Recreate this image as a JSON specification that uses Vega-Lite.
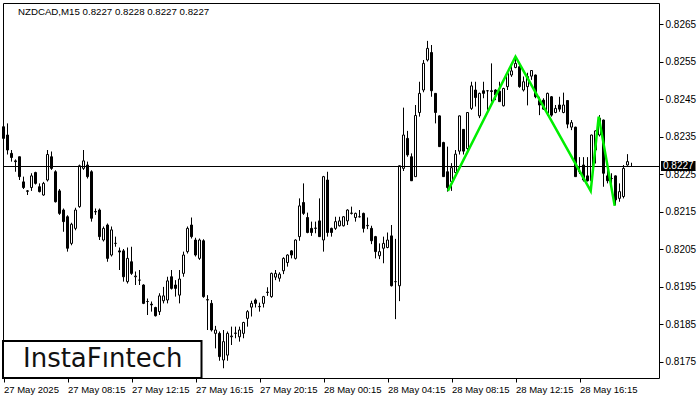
{
"$schema":"https://vega.github.io/schema/vega-lite/v6.json",
"width":656,"height":375,
"autosize":{"type":"none"},
"padding":{"left":3,"top":3,"right":41,"bottom":22},
"background":"white",
"data":{"values":[{}]},
"config":{"view":{"stroke":"black","strokeWidth":1},"scale":{"continuousPadding":0},"axis":{"grid":false,"domain":false,"tickColor":"black","labelColor":"black","tickSize":4,"labelFont":"Liberation Sans","title":null}},
"datasets":{
"candles":[
{"i":0,"o":0.82376,"h":0.82381,"l":0.82343,"c":0.82345},
{"i":1,"o":0.82354,"h":0.82385,"l":0.82302,"c":0.82314},
{"i":2,"o":0.82305,"h":0.82314,"l":0.82283,"c":0.82294},
{"i":3,"o":0.82285,"h":0.82289,"l":0.82256,"c":0.82283},
{"i":4,"o":0.82296,"h":0.82296,"l":0.82234,"c":0.82243},
{"i":5,"o":0.82229,"h":0.82243,"l":0.82210,"c":0.82214},
{"i":6,"o":0.82205,"h":0.82207,"l":0.82194,"c":0.82204},
{"i":7,"o":0.82214,"h":0.82252,"l":0.82205,"c":0.82245},
{"i":8,"o":0.82254,"h":0.82256,"l":0.82222,"c":0.82225},
{"i":9,"o":0.82216,"h":0.82225,"l":0.82201,"c":0.82203},
{"i":10,"o":0.82194,"h":0.82229,"l":0.82192,"c":0.82225},
{"i":11,"o":0.82234,"h":0.82314,"l":0.82230,"c":0.82302},
{"i":12,"o":0.82296,"h":0.82310,"l":0.82261,"c":0.82265},
{"i":13,"o":0.82256,"h":0.82260,"l":0.82174,"c":0.82176},
{"i":14,"o":0.82205,"h":0.82210,"l":0.82141,"c":0.82145},
{"i":15,"o":0.82154,"h":0.82158,"l":0.82096,"c":0.82123},
{"i":16,"o":0.82136,"h":0.82140,"l":0.82043,"c":0.82052},
{"i":17,"o":0.82065,"h":0.82120,"l":0.82060,"c":0.82116},
{"i":18,"o":0.82105,"h":0.82160,"l":0.82100,"c":0.82154},
{"i":19,"o":0.82163,"h":0.82275,"l":0.82160,"c":0.82272},
{"i":20,"o":0.82265,"h":0.82314,"l":0.82261,"c":0.82285},
{"i":21,"o":0.82274,"h":0.82283,"l":0.82238,"c":0.82243},
{"i":22,"o":0.82256,"h":0.82260,"l":0.82123,"c":0.82132},
{"i":23,"o":0.82150,"h":0.82158,"l":0.82141,"c":0.82149},
{"i":24,"o":0.82154,"h":0.82158,"l":0.82074,"c":0.82083},
{"i":25,"o":0.82074,"h":0.82110,"l":0.82070,"c":0.82105},
{"i":26,"o":0.82114,"h":0.82118,"l":0.82016,"c":0.82025},
{"i":27,"o":0.82034,"h":0.82110,"l":0.82030,"c":0.82101},
{"i":28,"o":0.82065,"h":0.82083,"l":0.82056,"c":0.82065},
{"i":29,"o":0.82045,"h":0.82054,"l":0.81994,"c":0.82042},
{"i":30,"o":0.82045,"h":0.82050,"l":0.81963,"c":0.81976},
{"i":31,"o":0.81963,"h":0.82054,"l":0.81958,"c":0.82025},
{"i":32,"o":0.82016,"h":0.82056,"l":0.81981,"c":0.81985},
{"i":33,"o":0.81976,"h":0.81990,"l":0.81954,"c":0.81978},
{"i":34,"o":0.81967,"h":0.81994,"l":0.81954,"c":0.81967},
{"i":35,"o":0.81954,"h":0.81956,"l":0.81903,"c":0.81905},
{"i":36,"o":0.81910,"h":0.81918,"l":0.81874,"c":0.81910},
{"i":37,"o":0.81903,"h":0.81910,"l":0.81883,"c":0.81901},
{"i":38,"o":0.81894,"h":0.81896,"l":0.81870,"c":0.81872},
{"i":39,"o":0.81883,"h":0.81932,"l":0.81874,"c":0.81925},
{"i":40,"o":0.81912,"h":0.81949,"l":0.81905,"c":0.81925},
{"i":41,"o":0.81914,"h":0.81976,"l":0.81905,"c":0.81965},
{"i":42,"o":0.81976,"h":0.81994,"l":0.81942,"c":0.81945},
{"i":43,"o":0.81954,"h":0.81967,"l":0.81923,"c":0.81945},
{"i":44,"o":0.81927,"h":0.81994,"l":0.81905,"c":0.81970},
{"i":45,"o":0.81985,"h":0.82043,"l":0.81976,"c":0.82034},
{"i":46,"o":0.82043,"h":0.82110,"l":0.82038,"c":0.82105},
{"i":47,"o":0.82114,"h":0.82134,"l":0.82078,"c":0.82083},
{"i":48,"o":0.82074,"h":0.82080,"l":0.82030,"c":0.82034},
{"i":49,"o":0.82025,"h":0.82078,"l":0.82021,"c":0.82074},
{"i":50,"o":0.82072,"h":0.82076,"l":0.81920,"c":0.81923},
{"i":51,"o":0.81914,"h":0.81927,"l":0.81834,"c":0.81915},
{"i":52,"o":0.81905,"h":0.81914,"l":0.81830,"c":0.81834},
{"i":53,"o":0.81825,"h":0.81845,"l":0.81785,"c":0.81834},
{"i":54,"o":0.81825,"h":0.81830,"l":0.81752,"c":0.81763},
{"i":55,"o":0.81754,"h":0.81834,"l":0.81732,"c":0.81803},
{"i":56,"o":0.81767,"h":0.81830,"l":0.81752,"c":0.81825},
{"i":57,"o":0.81816,"h":0.81843,"l":0.81794,"c":0.81818},
{"i":58,"o":0.81825,"h":0.81843,"l":0.81812,"c":0.81826},
{"i":59,"o":0.81816,"h":0.81843,"l":0.81803,"c":0.81834},
{"i":60,"o":0.81825,"h":0.81856,"l":0.81812,"c":0.81854},
{"i":61,"o":0.81865,"h":0.81887,"l":0.81843,"c":0.81883},
{"i":62,"o":0.81895,"h":0.81912,"l":0.81870,"c":0.81905},
{"i":63,"o":0.81914,"h":0.81918,"l":0.81894,"c":0.81905},
{"i":64,"o":0.81896,"h":0.81907,"l":0.81883,"c":0.81897},
{"i":65,"o":0.81905,"h":0.81925,"l":0.81894,"c":0.81923},
{"i":66,"o":0.81934,"h":0.81948,"l":0.81925,"c":0.81935},
{"i":67,"o":0.81923,"h":0.81987,"l":0.81920,"c":0.81985},
{"i":68,"o":0.81975,"h":0.81994,"l":0.81967,"c":0.81985},
{"i":69,"o":0.81972,"h":0.81988,"l":0.81963,"c":0.81983},
{"i":70,"o":0.81992,"h":0.82028,"l":0.81983,"c":0.82025},
{"i":71,"o":0.82014,"h":0.82036,"l":0.82003,"c":0.82034},
{"i":72,"o":0.82045,"h":0.82047,"l":0.82025,"c":0.82034},
{"i":73,"o":0.82025,"h":0.82076,"l":0.82022,"c":0.82074},
{"i":74,"o":0.82083,"h":0.82185,"l":0.82072,"c":0.82165},
{"i":75,"o":0.82174,"h":0.82225,"l":0.82141,"c":0.82145},
{"i":76,"o":0.82134,"h":0.82147,"l":0.82092,"c":0.82094},
{"i":77,"o":0.82105,"h":0.82123,"l":0.82085,"c":0.82094},
{"i":78,"o":0.82105,"h":0.82123,"l":0.82092,"c":0.82106},
{"i":79,"o":0.82125,"h":0.82185,"l":0.82083,"c":0.82083},
{"i":80,"o":0.82074,"h":0.82245,"l":0.82043,"c":0.82243},
{"i":81,"o":0.82234,"h":0.82256,"l":0.82083,"c":0.82094},
{"i":82,"o":0.82105,"h":0.82107,"l":0.82083,"c":0.82094},
{"i":83,"o":0.82105,"h":0.82136,"l":0.82101,"c":0.82123},
{"i":84,"o":0.82112,"h":0.82136,"l":0.82110,"c":0.82125},
{"i":85,"o":0.82112,"h":0.82138,"l":0.82110,"c":0.82136},
{"i":86,"o":0.82125,"h":0.82156,"l":0.82114,"c":0.82154},
{"i":87,"o":0.82145,"h":0.82163,"l":0.82142,"c":0.82146},
{"i":88,"o":0.82134,"h":0.82147,"l":0.82123,"c":0.82145},
{"i":89,"o":0.82136,"h":0.82154,"l":0.82134,"c":0.82136},
{"i":90,"o":0.82145,"h":0.82147,"l":0.82094,"c":0.82105},
{"i":91,"o":0.82112,"h":0.82134,"l":0.82103,"c":0.82113},
{"i":92,"o":0.82105,"h":0.82112,"l":0.82063,"c":0.82072},
{"i":93,"o":0.82083,"h":0.82085,"l":0.82025,"c":0.82043},
{"i":94,"o":0.82032,"h":0.82065,"l":0.82023,"c":0.82043},
{"i":95,"o":0.82052,"h":0.82083,"l":0.82012,"c":0.82065},
{"i":96,"o":0.82054,"h":0.82094,"l":0.82052,"c":0.82074},
{"i":97,"o":0.82085,"h":0.82114,"l":0.81950,"c":0.81952},
{"i":98,"o":0.81963,"h":0.82077,"l":0.81863,"c":0.81963},
{"i":99,"o":0.81952,"h":0.82273,"l":0.81911,"c":0.82272},
{"i":100,"o":0.82265,"h":0.82427,"l":0.82258,"c":0.82354},
{"i":101,"o":0.82345,"h":0.82365,"l":0.82296,"c":0.82301},
{"i":102,"o":0.82296,"h":0.82305,"l":0.82232,"c":0.82232},
{"i":103,"o":0.82243,"h":0.82434,"l":0.82243,"c":0.82406},
{"i":104,"o":0.82414,"h":0.82496,"l":0.82403,"c":0.82465},
{"i":105,"o":0.82474,"h":0.82554,"l":0.82468,"c":0.82545},
{"i":106,"o":0.82554,"h":0.82605,"l":0.82550,"c":0.82585},
{"i":107,"o":0.82574,"h":0.82594,"l":0.82456,"c":0.82472},
{"i":108,"o":0.82465,"h":0.82466,"l":0.82385,"c":0.82414},
{"i":109,"o":0.82405,"h":0.82406,"l":0.82322,"c":0.82323},
{"i":110,"o":0.82334,"h":0.82336,"l":0.82242,"c":0.82243},
{"i":111,"o":0.82256,"h":0.82323,"l":0.82203,"c":0.82214},
{"i":112,"o":0.82230,"h":0.82279,"l":0.82205,"c":0.82267},
{"i":113,"o":0.82254,"h":0.82314,"l":0.82252,"c":0.82303},
{"i":114,"o":0.82311,"h":0.82406,"l":0.82302,"c":0.82405},
{"i":115,"o":0.82369,"h":0.82370,"l":0.82302,"c":0.82311},
{"i":116,"o":0.82318,"h":0.82415,"l":0.82314,"c":0.82414},
{"i":117,"o":0.82425,"h":0.82496,"l":0.82421,"c":0.82485},
{"i":118,"o":0.82474,"h":0.82496,"l":0.82430,"c":0.82454},
{"i":119,"o":0.82405,"h":0.82467,"l":0.82399,"c":0.82465},
{"i":120,"o":0.82472,"h":0.82496,"l":0.82452,"c":0.82465},
{"i":121,"o":0.82472,"h":0.82474,"l":0.82421,"c":0.82472},
{"i":122,"o":0.82472,"h":0.82545,"l":0.82443,"c":0.82470},
{"i":123,"o":0.82474,"h":0.82476,"l":0.82447,"c":0.82461},
{"i":124,"o":0.82471,"h":0.82496,"l":0.82443,"c":0.82443},
{"i":125,"o":0.82432,"h":0.82480,"l":0.82430,"c":0.82478},
{"i":126,"o":0.82483,"h":0.82525,"l":0.82474,"c":0.82518},
{"i":127,"o":0.82514,"h":0.82545,"l":0.82509,"c":0.82525},
{"i":128,"o":0.82534,"h":0.82563,"l":0.82532,"c":0.82545},
{"i":129,"o":0.82536,"h":0.82548,"l":0.82480,"c":0.82483},
{"i":130,"o":0.82474,"h":0.82510,"l":0.82470,"c":0.82496},
{"i":131,"o":0.82483,"h":0.82520,"l":0.82433,"c":0.82510},
{"i":132,"o":0.82511,"h":0.82527,"l":0.82501,"c":0.82526},
{"i":133,"o":0.82514,"h":0.82515,"l":0.82452,"c":0.82456},
{"i":134,"o":0.82446,"h":0.82456,"l":0.82407,"c":0.82434},
{"i":135,"o":0.82447,"h":0.82452,"l":0.82421,"c":0.82423},
{"i":136,"o":0.82412,"h":0.82467,"l":0.82405,"c":0.82465},
{"i":137,"o":0.82456,"h":0.82458,"l":0.82403,"c":0.82407},
{"i":138,"o":0.82414,"h":0.82434,"l":0.82412,"c":0.82425},
{"i":139,"o":0.82434,"h":0.82456,"l":0.82416,"c":0.82423},
{"i":140,"o":0.82414,"h":0.82467,"l":0.82412,"c":0.82434},
{"i":141,"o":0.82446,"h":0.82447,"l":0.82372,"c":0.82383},
{"i":142,"o":0.82375,"h":0.82394,"l":0.82367,"c":0.82387},
{"i":143,"o":0.82375,"h":0.82376,"l":0.82243,"c":0.82243},
{"i":144,"o":0.82256,"h":0.82295,"l":0.82250,"c":0.82257},
{"i":145,"o":0.82274,"h":0.82295,"l":0.82230,"c":0.82234},
{"i":146,"o":0.82245,"h":0.82295,"l":0.82230,"c":0.82232},
{"i":147,"o":0.82232,"h":0.82355,"l":0.82207,"c":0.82354},
{"i":148,"o":0.82314,"h":0.82366,"l":0.82278,"c":0.82365},
{"i":149,"o":0.82354,"h":0.82407,"l":0.82350,"c":0.82399},
{"i":150,"o":0.82394,"h":0.82395,"l":0.82216,"c":0.82252},
{"i":151,"o":0.82245,"h":0.82274,"l":0.82225,"c":0.82232},
{"i":152,"o":0.82238,"h":0.82252,"l":0.82207,"c":0.82238},
{"i":153,"o":0.82245,"h":0.82246,"l":0.82167,"c":0.82181},
{"i":154,"o":0.82185,"h":0.82225,"l":0.82176,"c":0.82203},
{"i":155,"o":0.82190,"h":0.82274,"l":0.82185,"c":0.82265},
{"i":156,"o":0.82274,"h":0.82303,"l":0.82272,"c":0.82283},
{"i":157,"o":0.82270,"h":0.82280,"l":0.82270,"c":0.82270}
],
"pattern":[
{"i":111.1,"p":0.82205},
{"i":128,"p":0.82563},
{"i":146.8,"p":0.82205},
{"i":148.8,"p":0.82403},
{"i":152.8,"p":0.82165}
]
},
"layer":[
{"data":{"name":"candles"},
 "mark":{"type":"rule","color":"black","strokeWidth":1},
 "encoding":{
  "x":{"field":"i","type":"quantitative","scale":{"domain":[-0.125,163.875],"nice":false,"zero":false,"padding":0},
   "axis":{"orient":"bottom","values":[0,16,32,48,64,80,96,112,128,144],"labelExpr":"['27 May 2025','27 May 08:15','27 May 12:15','27 May 16:15','27 May 20:15','28 May 00:15','28 May 04:15','28 May 08:15','28 May 12:15','28 May 16:15'][round(datum.value/16)]","labelAlign":"left","labelBaseline":"top","labelPadding":2,"labelFontSize":9.5,"labelOverlap":false,"labelBound":false,"labelFlush":false}},
  "y":{"field":"l","type":"quantitative","scale":{"domain":[0.81706,0.82706],"nice":false,"zero":false,"padding":0},
   "axis":{"orient":"right","values":[0.8175,0.8185,0.8195,0.8205,0.8215,0.8225,0.8235,0.8245,0.8255,0.8265],"format":".4f","labelAlign":"left","labelBaseline":"middle","labelPadding":2,"labelFontSize":10,"labelOverlap":false,"labelBound":false,"labelFlush":false}},
  "y2":{"field":"h"}}},
{"data":{"name":"candles"},
 "mark":{"type":"bar","size":2,"stroke":"black","strokeWidth":1},
 "encoding":{
  "x":{"field":"i","type":"quantitative"},
  "y":{"field":"o","type":"quantitative"},
  "y2":{"field":"c"},
  "fill":{"condition":{"test":"datum.c < datum.o","value":"black"},"value":"white"}}},
{"mark":{"type":"rule","color":"black","strokeWidth":1},
 "encoding":{"y":{"datum":0.8227,"type":"quantitative"}}},
{"data":{"name":"pattern"},
 "mark":{"type":"line","color":"#00ee00","strokeWidth":2.5},
 "encoding":{
  "x":{"field":"i","type":"quantitative"},
  "y":{"field":"p","type":"quantitative"}}},
{"mark":{"type":"text","text":"NZDCAD,M15  0.8227 0.8228 0.8227 0.8227","font":"Liberation Sans","fontSize":9.7,"align":"left","baseline":"alphabetic","color":"black"},
 "encoding":{"x":{"datum":3.625,"type":"quantitative"},"y":{"datum":0.82674,"type":"quantitative"}}},
{"mark":{"type":"rect","fill":"white","stroke":"black","strokeWidth":2},
 "encoding":{"x":{"datum":-0.125,"type":"quantitative"},"x2":{"datum":49.5},"y":{"datum":0.818047,"type":"quantitative"},"y2":{"datum":0.81706}}},
{"mark":{"type":"text","text":"InstaFıntech","font":"DejaVu Sans","fontSize":26,"align":"center","baseline":"alphabetic","color":"#111111"},
 "encoding":{"x":{"datum":24.8,"type":"quantitative"},"y":{"datum":0.817345,"type":"quantitative"}}},
{"mark":{"type":"rect","fill":"black"},
 "encoding":{"x":{"datum":164.375,"type":"quantitative"},"x2":{"datum":173.0},"y":{"datum":0.822847,"type":"quantitative"},"y2":{"datum":0.82258}}},
{"mark":{"type":"text","text":"0.8227","font":"Liberation Sans","fontSize":10,"align":"left","baseline":"middle","color":"white"},
 "encoding":{"x":{"datum":164.875,"type":"quantitative"},"y":{"datum":0.822713,"type":"quantitative"}}}
]
}
